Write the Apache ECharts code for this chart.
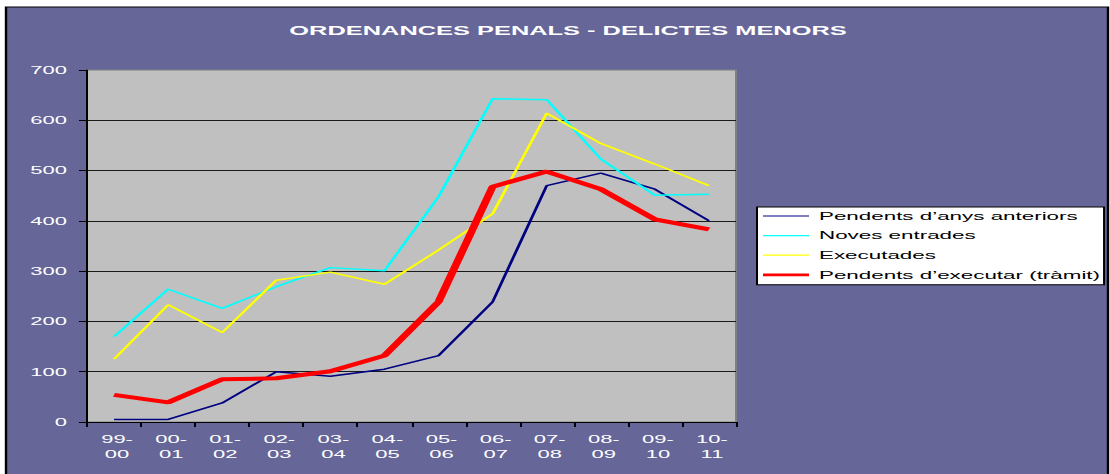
<!DOCTYPE html>
<html>
<head>
<meta charset="utf-8">
<script src="https://cdn.jsdelivr.net/npm/echarts@6/dist/echarts.min.js"></script>
<style>
	html, body { margin: 0; padding: 0; background: #fff; overflow: hidden; }
	/* the original chart is stretched sideways, so draw narrow and widen */
	#chart { width: 555px; height: 474px; transform: scaleX(2); transform-origin: 0 0; }
</style>
</head>
<body>
<div id="chart"></div>
<script>
// data
var periods = ['99-00', '00-01', '01-02', '02-03', '03-04', '04-05', '05-06', '06-07', '07-08', '08-09', '09-10', '10-11']
var pendentsAnteriors = [5, 5, 38, 100, 91, 105, 132, 239, 470, 495, 463, 400]
var novesEntrades = [170, 264, 226, 269, 307, 301, 448, 643, 641, 523, 451, 453]
var executades = [125, 233, 178, 282, 298, 274, 342, 414, 614, 554, 513, 470]
var pendentsExecutar = [54, 39, 85, 87, 101, 132, 239, 468, 498, 463, 403, 383]
var yTicks = [0, 100, 200, 300, 400, 500, 600, 700]

var names = ['Pendents d’anys anteriors', 'Noves entrades', 'Executades', 'Pendents d’executar (tràmit)']

var font = '"Liberation Sans", Arial, sans-serif'

// legend keys are plain lines: a thin bar inside a 23x14 box
var thinKey = 'path://M0,0L0.01,0L0,0.01Z M0,14L0.01,14L0,13.99Z M0,6.4L23,6.4L23,7.6L0,7.6Z'
var thickKey = 'path://M0,0L0.01,0L0,0.01Z M0,14L0.01,14L0,13.99Z M0,5.6L23,5.6L23,8.4L0,8.4Z'

var chart = echarts.init(document.getElementById('chart'), null, { renderer: 'svg' })

function lineSeries(name, data, color, width) {
	return {
		name: name,
		type: 'line',
		data: data,
		symbol: 'none',
		smooth: false,
		itemStyle: { color: color },
		lineStyle: { color: color, width: width }
	}
}

var option = {
	backgroundColor: 'transparent',
	animation: false,
	graphic: [{
		type: 'rect',
		z: -100,
		silent: true,
		shape: { x: 3, y: 7, width: 551, height: 480 },
		style: { fill: '#666699', stroke: '#000', lineWidth: 1.2 }
	}],
	title: {
		text: 'ORDENANCES PENALS - DELICTES MENORS',
		left: 279,
		top: 19,
		textAlign: 'center',
		textStyle: { color: '#fff', fontSize: 12.7, fontWeight: 'bold', fontFamily: font }
	},
	legend: {
		orient: 'vertical',
		left: 378.5,
		top: 207,
		padding: [2, 2, 3, 3],
		itemWidth: 23,
		itemHeight: 14,
		itemGap: 5.6,
		backgroundColor: '#fff',
		borderColor: '#000',
		borderWidth: 1,
		data: [
			{ name: names[0], icon: thinKey },
			{ name: names[1], icon: thinKey },
			{ name: names[2], icon: thinKey },
			{ name: names[3], icon: thickKey }
		],
		textStyle: { color: '#000', fontSize: 11.2, fontFamily: font }
	},
	grid: {
		left: 43.5,
		top: 70,
		width: 324.5,
		height: 352,
		show: true,
		backgroundColor: '#c0c0c0',
		borderColor: '#808080',
		borderWidth: 1
	},
	xAxis: {
		type: 'category',
		data: periods,
		boundaryGap: true,
		axisLine: { lineStyle: { color: '#000', width: 1 } },
		axisTick: { show: true, interval: 0, length: 5, lineStyle: { color: '#000' } },
		axisLabel: {
			interval: 0,
			color: '#fff',
			fontSize: 11,
			lineHeight: 15,
			margin: 10,
			padding: [0, 0, 0, 3],
			fontFamily: font,
			formatter: function (v) {
				return v.replace('-', '-\n')
			}
		}
	},
	yAxis: {
		type: 'value',
		min: yTicks[0],
		max: yTicks[yTicks.length - 1],
		interval: 100,
		axisLine: { show: true, lineStyle: { color: '#000', width: 1 } },
		axisTick: { show: true, length: 4, lineStyle: { color: '#000' } },
		axisLabel: { color: '#fff', fontSize: 11, margin: 10, fontFamily: font },
		splitLine: { show: true, showMinLine: false, showMaxLine: false, lineStyle: { color: '#1a1a1a', width: 1 } }
	},
	series: [
		lineSeries(names[0], pendentsAnteriors, '#000080', 1.5),
		lineSeries(names[1], novesEntrades, '#00ffff', 1.5),
		lineSeries(names[2], executades, '#ffff00', 1.5),
		lineSeries(names[3], pendentsExecutar, '#ff0000', 4)
	]
}

chart.setOption(option)
</script>
</body>
</html>
